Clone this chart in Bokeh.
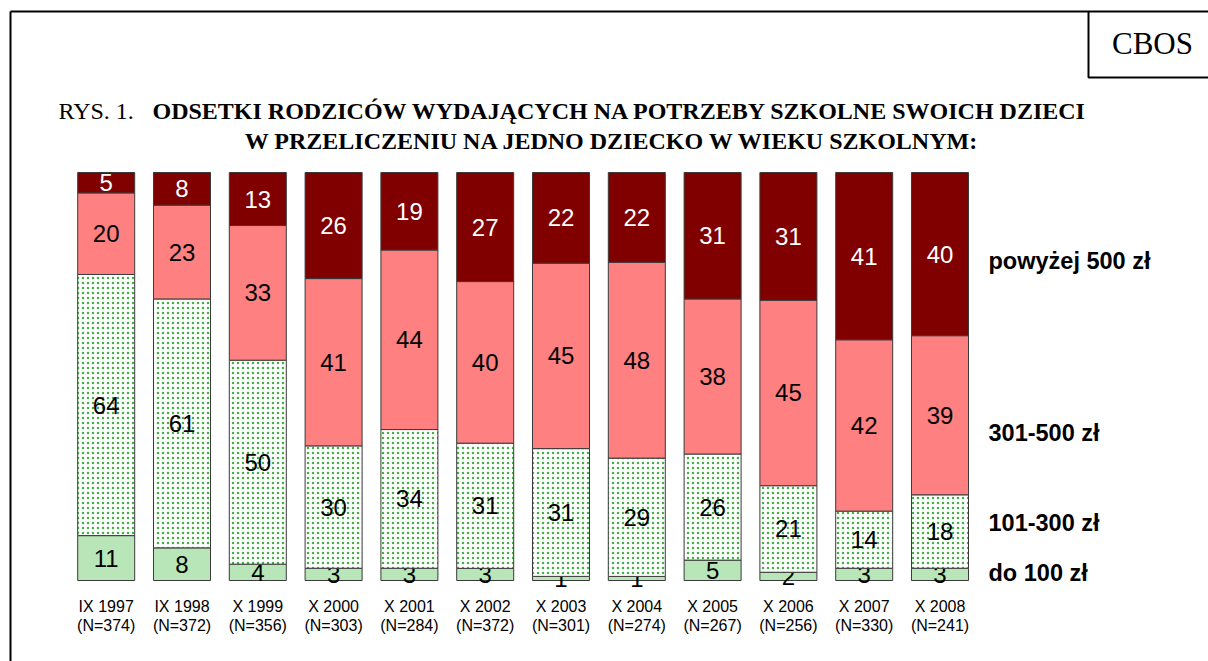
from bokeh.plotting import figure
from bokeh.models import ColumnDataSource, Range1d, Label
from bokeh.core.properties import value
from bokeh.embed import file_html
from bokeh.resources import INLINE

# ---------------- data ----------------
categories = ["IX 1997", "IX 1998", "X 1999", "X 2000", "X 2001", "X 2002",
              "X 2003", "X 2004", "X 2005", "X 2006", "X 2007", "X 2008"]
sample_sizes = ["(N=374)", "(N=372)", "(N=356)", "(N=303)", "(N=284)", "(N=372)",
                "(N=301)", "(N=274)", "(N=267)", "(N=256)", "(N=330)", "(N=241)"]
do_100 = [11, 8, 4, 3, 3, 3, 1, 1, 5, 2, 3, 3]
od_101_300 = [64, 61, 50, 30, 34, 31, 31, 29, 26, 21, 14, 18]
od_301_500 = [20, 23, 33, 41, 44, 40, 45, 48, 38, 45, 42, 39]
powyzej_500 = [5, 8, 13, 26, 19, 27, 22, 22, 31, 31, 41, 40]
series_names = ["do 100 zł", "101-300 zł", "301-500 zł", "powyżej 500 zł"]
series_values = [do_100, od_101_300, od_301_500, powyzej_500]

title_prefix = "RYS. 1."
title_line1 = "ODSETKI RODZICÓW WYDAJĄCYCH NA POTRZEBY SZKOLNE SWOICH DZIECI"
title_line2 = "W PRZELICZENIU NA JEDNO DZIECKO W WIEKU SZKOLNYM:"
source_label = "CBOS"

# ---------------- layout (pixels) ----------------
W, H = 1208, 661
MARGIN = 0
X0 = 105.7     # px of first bar centre
PITCH = 75.8   # px between bar centres
Y0 = 580.0     # px of value 0
SCALE = 4.08   # px per percent


def dx(page_px):
    return (page_px - MARGIN - X0) / PITCH


def dy(page_py):
    return (Y0 - (page_py - MARGIN)) / SCALE


p = figure(width=W, height=H, output_backend="svg", toolbar_location=None,
           x_axis_type=None, y_axis_type=None, min_border=0,
           x_range=Range1d((0 - X0) / PITCH, (W - X0) / PITCH),
           y_range=Range1d((Y0 - H) / SCALE, Y0 / SCALE))
p.grid.visible = False
p.outline_line_color = None
p.background_fill_color = "white"
p.border_fill_color = "white"

# ---------------- stacked 100% bars ----------------
n = len(categories)
xs = list(range(n))
totals = [sum(s[i] for s in series_values) for i in range(n)]
fills = ["#B8E6B8", "white", "#FF8080", "#800000"]
text_colors = ["black", "black", "black", "white"]

bottoms = [0.0] * n
for k, vals in enumerate(series_values):
    fr = [vals[i] / totals[i] * 100 for i in range(n)]
    tops = [bottoms[i] + fr[i] for i in range(n)]
    src = ColumnDataSource(dict(x=xs, bottom=bottoms, top=tops,
                                mid=[(bottoms[i] + tops[i]) / 2 for i in range(n)],
                                label=[str(v) for v in vals]))
    kw = {}
    if k == 1:
        kw = dict(hatch_pattern="dot", hatch_color="#2EA82E", hatch_scale=5,
                  hatch_weight=1.2, hatch_alpha=0.9)
    p.vbar(x="x", bottom="bottom", top="top", width=0.752, source=src,
           fill_color=fills[k], line_color="#3a3a3a", line_width=1, **kw)
    p.text(x="x", y="mid", text="label", source=src, text_align="center",
           text_baseline="middle", text_font=value("Liberation Sans"),
           text_font_size="24px", text_color=text_colors[k])
    bottoms = tops

# category labels
cat_src = ColumnDataSource(dict(x=xs, c=categories, n=sample_sizes))
p.text(x="x", y=dy(606), text="c", source=cat_src, text_align="center",
       text_baseline="middle", text_font=value("Liberation Sans"),
       text_font_size="16px", text_color="black")
p.text(x="x", y=dy(625), text="n", source=cat_src, text_align="center",
       text_baseline="middle", text_font=value("Liberation Sans"),
       text_font_size="16px", text_color="black")

# series names at the right
legend_y = [572, 522, 432, 260]
leg_src = ColumnDataSource(dict(x=[dx(988)] * 4, y=[dy(v) for v in legend_y],
                                t=series_names))
p.text(x="x", y="y", text="t", source=leg_src, text_align="left",
       text_baseline="middle", text_font=value("Liberation Sans"),
       text_font_size="23.5px", text_font_style="bold", text_color="black")

# ---------------- title ----------------
p.add_layout(Label(x=dx(58), y=dy(110), text=title_prefix, text_align="left",
                   text_baseline="middle", text_font="Liberation Serif",
                   text_font_size="24px", text_color="black"))
p.add_layout(Label(x=dx(152), y=dy(110), text=title_line1, text_align="left",
                   text_baseline="middle", text_font="Liberation Serif",
                   text_font_size="24px", text_font_style="bold", text_color="black"))
p.add_layout(Label(x=dx(612), y=dy(140), text=title_line2, text_align="center",
                   text_baseline="middle", text_font="Liberation Serif",
                   text_font_size="24px", text_font_style="bold", text_color="black"))

# ---------------- frame and CBOS box ----------------
p.line(x=[dx(10), dx(1215)], y=[dy(11), dy(11)], line_color="black", line_width=2)
p.line(x=[dx(10), dx(10)], y=[dy(11), dy(670)], line_color="black", line_width=2)
p.line(x=[dx(1088), dx(1088), dx(1215)], y=[dy(11), dy(77), dy(77)],
       line_color="black", line_width=2)
p.add_layout(Label(x=dx(1152), y=dy(43), text=source_label, text_align="center",
                   text_baseline="middle", text_font="Liberation Serif",
                   text_font_size="31px", text_color="black"))

open("out.html", "w").write(file_html(p, INLINE))
